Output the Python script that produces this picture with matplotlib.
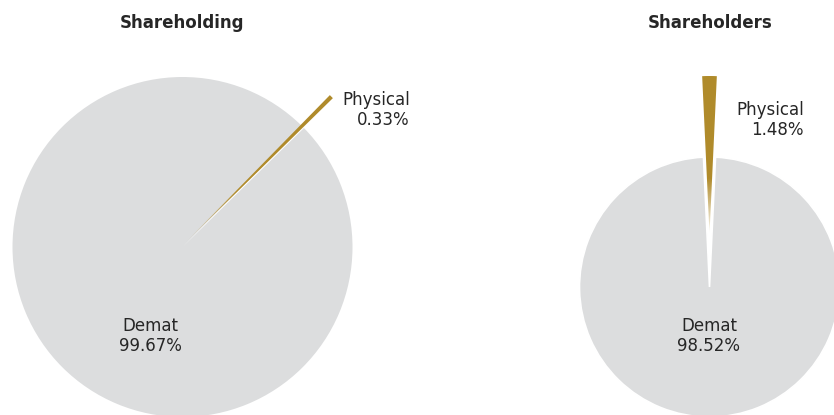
import numpy as np
import matplotlib.pyplot as plt

labels = ['Physical', 'Demat']
shareholding = [0.33, 99.67]
shareholders = [1.48, 98.52]
titles = ['Shareholding', 'Shareholders']

grey = '#dcddde'
gold = '#b08b2b'
W, H = 834, 415

fig = plt.figure(figsize=(W / 100, H / 100), dpi=100)
ax = fig.add_axes([0, 0, 1, 1])


def gold_fill(wedge, apex, r):
    # gold that fades out towards the apex, clipped to the wedge
    n = 400
    xs = np.linspace(apex[0] - r, apex[0] + r, n)
    ys = np.linspace(apex[1] - r, apex[1] + r, n)
    gx, gy = np.meshgrid(xs, ys)
    d = np.hypot(gx - apex[0], gy - apex[1]) / r
    img = np.zeros((n, n, 4))
    img[..., :3] = np.array([0xb0, 0x8b, 0x2b]) / 255
    img[..., 3] = np.clip(d / 0.35, 0, 1) ** 0.9
    im = ax.imshow(img, extent=(xs[0], xs[-1], ys[0], ys[-1]), origin='lower',
                   interpolation='bilinear', zorder=3)
    im.set_clip_path(wedge)


def draw(vals, mid_angle, center, r, gold_center, gold_r, pad=0):
    start = mid_angle - 180 * vals[0] / sum(vals)
    # grey pie with the physical slot left blank
    w, _ = ax.pie(vals, colors=['none', grey], startangle=start, center=center,
                  radius=r, frame=True,
                  wedgeprops=dict(edgecolor='white', linewidth=pad))
    # physical slice pulled out and drawn longer
    g, _ = ax.pie(vals, colors=['none', 'none'], startangle=start,
                  center=gold_center, radius=gold_r, frame=True,
                  wedgeprops=dict(linewidth=0))
    g[1].set_visible(False)
    gold_fill(g[0], gold_center, gold_r)


draw(shareholding, 45, (182.5, H - 247), 170, (185, H - 243), 207)
draw(shareholders, 90, (709.5, H - 287), 130, (709.5, H - 234), 158, pad=1.2)

txt = dict(fontsize=12, color='#262626', va='baseline')
for x, t in zip([182, 710], titles):
    ax.text(x, H - 28, t, ha='center', fontweight='bold', **txt)

# Demat labels
for x, vals in zip([150, 709], [shareholding, shareholders]):
    ax.text(x, H - 331, labels[1], ha='center', **txt)
    ax.text(x, H - 351, f'{vals[1]:.2f}%', ha='center', **txt)

# Physical labels
for (x, y), vals in zip([(410, 105), (804, 115)], [shareholding, shareholders]):
    ax.text(x, H - y, labels[0], ha='right', **txt)
    ax.text(x, H - y - 20, f'{vals[0]:.2f}%', ha='right', **txt)

ax.set_xlim(0, W)
ax.set_ylim(0, H)
ax.set_aspect('equal')
ax.axis('off')

plt.savefig('out.png', dpi=100)
